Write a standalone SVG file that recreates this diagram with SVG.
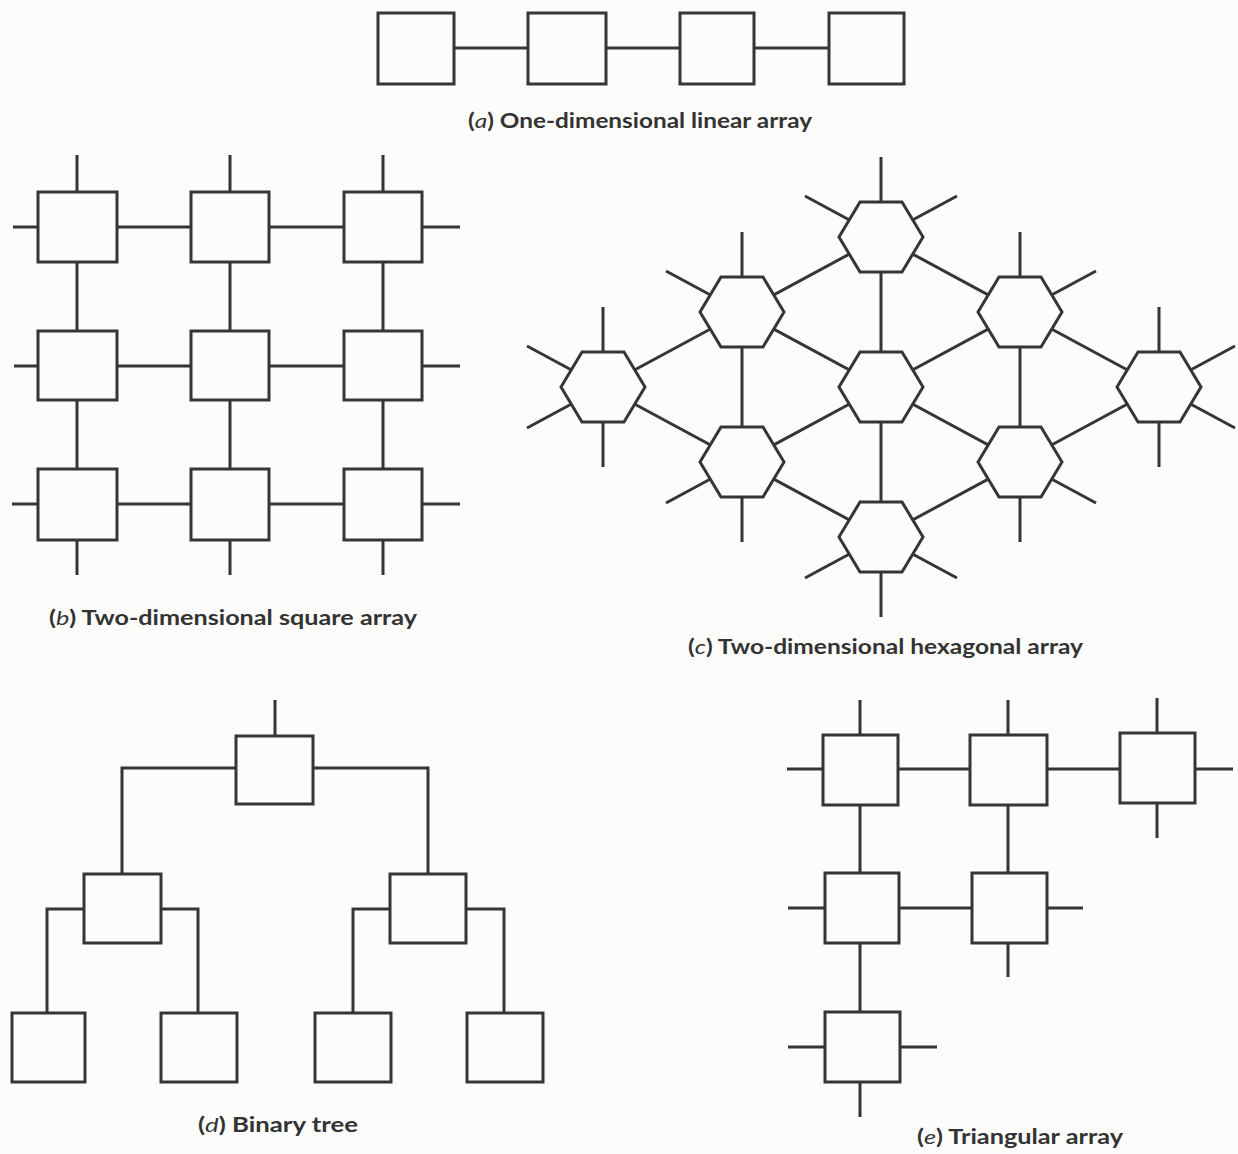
<svg xmlns="http://www.w3.org/2000/svg" xmlns:xlink="http://www.w3.org/1999/xlink" width="1238" height="1154" viewBox="0 0 1238 1154">
  <style>
    .ln { stroke: #353535; stroke-width: 3; fill: none; stroke-linecap: butt; stroke-linejoin: miter; }
    .nd { stroke: #353535; stroke-width: 3; fill: #fcfcfa; stroke-linejoin: miter; }
    .cap { font-family: "Lato", "Open Sans", "Liberation Sans", sans-serif; font-weight: bold; font-size: 20px; fill: #333333; }
    .it { font-style: italic; font-weight: normal; }
  </style>
  <defs>
    <polygon id="hex" points="-42,0 -21,-35 21,-35 42,0 21,35 -21,35"/>
  </defs>
  <rect x="0" y="0" width="1238" height="1154" fill="#fcfcfa"/>

  <!-- connectors -->
  <g id="connectors" class="ln">
    <!-- (a) linear array -->
    <path d="M454 48 H528 M606 48 H680 M754 48 H829"/>

    <!-- (b) square array: rows, columns and edge stubs -->
    <path d="M13 227 H460 M14 366 H460 M12 504 H460"/>
    <path d="M77 155 V575 M230 155 V575 M383 155 V575"/>

    <!-- (c) hexagonal array: links between centres -->
    <path d="M881 237 L742 312 M881 237 L1020 312 M881 237 V387
             M742 312 L603 387 M742 312 L881 387 M742 312 V462
             M1020 312 L881 387 M1020 312 L1159 387 M1020 312 V462
             M603 387 L742 462 M881 387 L742 462 M881 387 L1020 462 M881 387 V537
             M1159 387 L1020 462 M742 462 L881 537 M1020 462 L881 537"/>
    <!-- (c) free stubs -->
    <path d="M881 237 V157 M881 237 l-76 -41 M881 237 l76 -41
             M742 312 V232 M742 312 l-76 -41
             M1020 312 V232 M1020 312 l76 -41
             M603 387 V307 M603 387 V467 M603 387 l-76 -41 M603 387 l-76 41
             M1159 387 V307 M1159 387 V467 M1159 387 l76 -41 M1159 387 l76 41
             M742 462 V542 M742 462 l-76 41
             M1020 462 V542 M1020 462 l76 41
             M881 537 V617 M881 537 l-76 41 M881 537 l76 41"/>

    <!-- (d) binary tree -->
    <path d="M275 700 V736"/>
    <path d="M236 768 H122 V874 M313 768 H428 V874"/>
    <path d="M84 909 H47 V1013 M161 909 H198 V1013"/>
    <path d="M390 909 H353 V1013 M466 909 H504 V1013"/>

    <!-- (e) triangular array -->
    <path d="M787 769 H1233 M788 908 H1083 M788 1047 H937"/>
    <path d="M860 700 V1117 M1008 700 V977 M1157 698 V838"/>
  </g>

  <!-- (a) linear array nodes -->
  <g id="a-node-1"><rect class="nd" x="378" y="13" width="76" height="71"/></g>
  <g id="a-node-2"><rect class="nd" x="528" y="13" width="78" height="71"/></g>
  <g id="a-node-3"><rect class="nd" x="680" y="13" width="74" height="71"/></g>
  <g id="a-node-4"><rect class="nd" x="829" y="13" width="75" height="71"/></g>

  <!-- (b) square array nodes -->
  <g id="b-node-1-1"><rect class="nd" x="38" y="192" width="79" height="70"/></g>
  <g id="b-node-1-2"><rect class="nd" x="191" y="192" width="78" height="70"/></g>
  <g id="b-node-1-3"><rect class="nd" x="344" y="192" width="78" height="70"/></g>
  <g id="b-node-2-1"><rect class="nd" x="38" y="331" width="79" height="69"/></g>
  <g id="b-node-2-2"><rect class="nd" x="191" y="331" width="78" height="69"/></g>
  <g id="b-node-2-3"><rect class="nd" x="344" y="331" width="78" height="69"/></g>
  <g id="b-node-3-1"><rect class="nd" x="38" y="469" width="79" height="71"/></g>
  <g id="b-node-3-2"><rect class="nd" x="191" y="469" width="78" height="71"/></g>
  <g id="b-node-3-3"><rect class="nd" x="344" y="469" width="78" height="71"/></g>

  <!-- (c) hexagonal array nodes -->
  <g id="c-node-1"><use xlink:href="#hex" href="#hex" class="nd" x="881" y="237"/></g>
  <g id="c-node-2"><use xlink:href="#hex" href="#hex" class="nd" x="742" y="312"/></g>
  <g id="c-node-3"><use xlink:href="#hex" href="#hex" class="nd" x="1020" y="312"/></g>
  <g id="c-node-4"><use xlink:href="#hex" href="#hex" class="nd" x="603" y="387"/></g>
  <g id="c-node-5"><use xlink:href="#hex" href="#hex" class="nd" x="881" y="387"/></g>
  <g id="c-node-6"><use xlink:href="#hex" href="#hex" class="nd" x="1159" y="387"/></g>
  <g id="c-node-7"><use xlink:href="#hex" href="#hex" class="nd" x="742" y="462"/></g>
  <g id="c-node-8"><use xlink:href="#hex" href="#hex" class="nd" x="1020" y="462"/></g>
  <g id="c-node-9"><use xlink:href="#hex" href="#hex" class="nd" x="881" y="537"/></g>

  <!-- (d) binary tree nodes -->
  <g id="d-root"><rect class="nd" x="236" y="736" width="77" height="68"/></g>
  <g id="d-left"><rect class="nd" x="84" y="874" width="77" height="69"/></g>
  <g id="d-right"><rect class="nd" x="390" y="874" width="76" height="69"/></g>
  <g id="d-leaf-1"><rect class="nd" x="12" y="1013" width="73" height="69"/></g>
  <g id="d-leaf-2"><rect class="nd" x="161" y="1013" width="76" height="69"/></g>
  <g id="d-leaf-3"><rect class="nd" x="315" y="1013" width="76" height="69"/></g>
  <g id="d-leaf-4"><rect class="nd" x="467" y="1013" width="76" height="69"/></g>

  <!-- (e) triangular array nodes -->
  <g id="e-node-1-1"><rect class="nd" x="823" y="735" width="75" height="70"/></g>
  <g id="e-node-1-2"><rect class="nd" x="970" y="735" width="77" height="70"/></g>
  <g id="e-node-1-3"><rect class="nd" x="1120" y="733" width="75" height="70"/></g>
  <g id="e-node-2-1"><rect class="nd" x="825" y="873" width="74" height="70"/></g>
  <g id="e-node-2-2"><rect class="nd" x="972" y="873" width="75" height="70"/></g>
  <g id="e-node-3-1"><rect class="nd" x="825" y="1012" width="75" height="70"/></g>

  <!-- captions -->
  <g id="captions">
    <text class="cap" x="468" y="128" textLength="344" lengthAdjust="spacingAndGlyphs">(<tspan class="it">a</tspan>) One-dimensional linear array</text>
    <text class="cap" x="49" y="625" textLength="368" lengthAdjust="spacingAndGlyphs">(<tspan class="it">b</tspan>) Two-dimensional square array</text>
    <text class="cap" x="688" y="654" textLength="395" lengthAdjust="spacingAndGlyphs">(<tspan class="it">c</tspan>) Two-dimensional hexagonal array</text>
    <text class="cap" x="198" y="1132" textLength="160" lengthAdjust="spacingAndGlyphs">(<tspan class="it">d</tspan>) Binary tree</text>
    <text class="cap" x="917" y="1144" textLength="206" lengthAdjust="spacingAndGlyphs">(<tspan class="it">e</tspan>) Triangular array</text>
  </g>
</svg>
